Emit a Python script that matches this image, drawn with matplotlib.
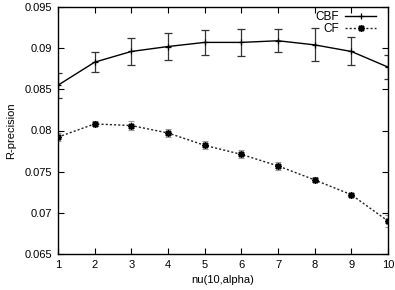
import numpy as np
import matplotlib
matplotlib.use('Agg')
import matplotlib.pyplot as plt

# values
nu = [1, 2, 3, 4, 5, 6, 7, 8, 9, 10]
cbf = [0.0855, 0.0883, 0.0896, 0.0902, 0.0907, 0.0907, 0.0909, 0.0904, 0.0896, 0.0877]
cbf_err = [0.0015, 0.0012, 0.0016, 0.0016, 0.0015, 0.0016, 0.0014, 0.0020, 0.0017, 0.0015]
cf = [0.0792, 0.0808, 0.0806, 0.0797, 0.0782, 0.0771, 0.0757, 0.0740, 0.0722, 0.0690]
cf_err = [0.0005, 0.0003, 0.0005, 0.0005, 0.0005, 0.0005, 0.0005, 0.0003, 0.0002, 0.0007]
yticks = [0.065, 0.07, 0.075, 0.08, 0.085, 0.09, 0.095]
ytick_labels = ['0.065', '0.07', '0.075', '0.08', '0.085', '0.09', '0.095']

plt.rcParams['font.family'] = ['Liberation Sans', 'DejaVu Sans']
plt.rcParams['font.size'] = 8

fig = plt.figure(figsize = (3.95, 2.90), dpi = 100)
ax = fig.add_axes([58 / 395, 1 - 254 / 290, 330 / 395, 247 / 290])

# error bars first, then lines on top
ax.errorbar(nu, cbf, yerr = cbf_err, fmt = 'none', ecolor = '#333333',
            elinewidth = 0.9, capsize = 3, capthick = 0.9)
ax.errorbar(nu, cf, yerr = cf_err, fmt = 'none', ecolor = '#999999',
            elinewidth = 0.8, capsize = 2.5, capthick = 0.8)

ax.plot(nu, cbf, color = 'black', lw = 1.0, marker = '+', ms = 5, mew = 0.9, label = 'CBF')
ax.plot(nu, cf, color = '#222222', lw = 1.0, ls = (0, (1.5, 1.5)), marker = (8, 2, 0),
        ms = 5, mew = 1.1, mec = 'black', label = 'CF')

ax.set_xlim(1, 10)
ax.set_ylim(0.065, 0.095)
ax.set_xticks(nu)
ax.set_yticks(yticks)
ax.set_yticklabels(ytick_labels)
ax.tick_params(direction = 'in', top = True, right = True, length = 4, width = 0.8, pad = 4)
for s in ax.spines.values():
  s.set_linewidth(1.0)

ax.set_xlabel('nu(10,alpha)', labelpad = 4)
ax.set_ylabel('R-precision', labelpad = 6)

leg = ax.legend(loc = 'upper right', bbox_to_anchor = (0.965, 0.985), frameon = False,
                markerfirst = False, handlelength = 2.7, borderaxespad = 0, borderpad = 0,
                labelspacing = 0.05, handletextpad = 0.5, fontsize = 8.5)

fig.savefig('out.png', dpi = 100)
